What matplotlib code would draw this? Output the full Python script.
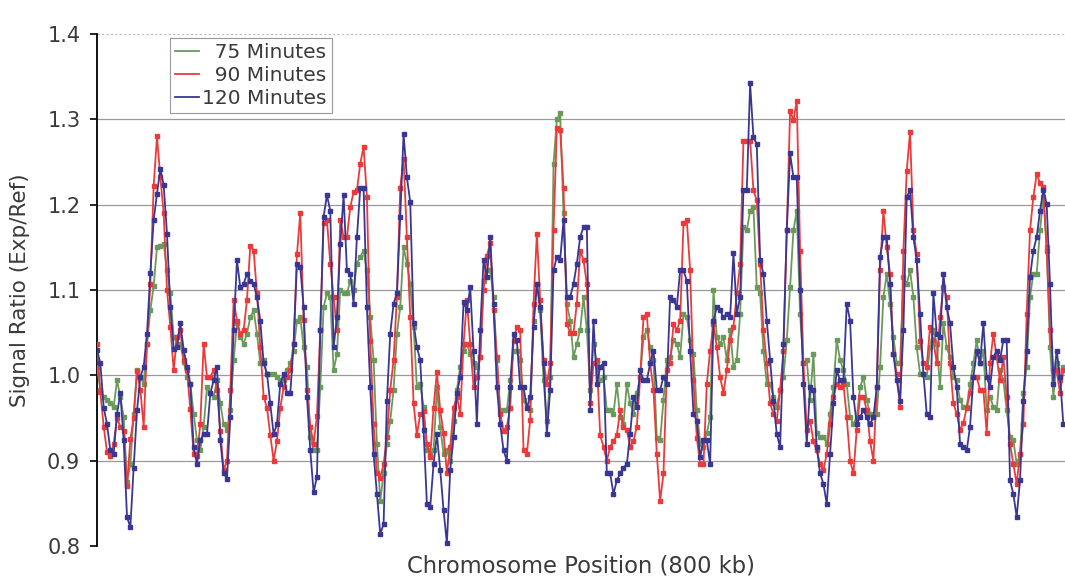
import numpy as np
import matplotlib
matplotlib.use('Agg')
import matplotlib.pyplot as plt
from matplotlib.lines import Line2D

# Signal ratios, left to right, one value per probe
ratio_75 = [
    1.01, 0.983, 0.975, 0.971, 0.967, 0.963, 0.994, 0.975, 0.951, 0.875,
    0.896, 0.955, 1.006, 0.998, 0.99, 1.037, 1.076, 1.105, 1.15, 1.152,
    1.154, 1.123, 1.096, 1.045, 1.037, 1.037, 1.016, 0.998, 0.99, 0.955,
    0.924, 0.912, 0.94, 0.986, 0.979, 0.975, 0.994, 0.967, 0.943, 0.936,
    0.959, 1.018, 1.061, 1.045, 1.037, 1.049, 1.068, 1.076,
    1.049, 1.014, 1.018, 1.002, 1.002, 1.002, 0.998, 0.994, 0.994, 1.006,
    1.014, 1.029, 1.064, 1.068, 1.033, 1.01, 0.928, 0.912, 0.912, 0.986,
    1.08, 1.096, 1.092, 1.006, 1.025, 1.10, 1.096, 1.096, 1.111, 1.10,
    1.131, 1.139, 1.146, 1.123, 1.068, 1.018, 0.92, 0.853, 0.885, 0.92,
    0.947, 0.983, 1.049, 1.08, 1.15, 1.131, 1.107, 1.057, 0.986, 0.99,
    0.963,
    0.912, 0.908, 0.912, 0.986, 0.939, 0.908, 0.912, 0.90, 0.947, 0.983,
    1.01, 1.029, 1.037, 1.025, 1.014, 1.01, 1.021, 1.111, 1.123, 1.123,
    1.092, 1.018, 0.959, 0.959, 0.959, 0.994, 1.029, 1.029, 1.018, 0.971,
    0.963, 0.959, 1.064, 1.107, 1.076, 0.994, 0.947, 0.998, 1.248, 1.30,
    1.307, 1.19, 1.084, 1.064, 1.021, 1.037, 1.053, 1.092,
    1.053, 0.983, 1.037, 1.014, 0.994, 0.998, 0.959, 0.959, 0.955, 0.99,
    0.951, 0.943, 0.99, 0.967, 0.955, 0.979, 0.998, 1.045, 1.053, 1.033,
    1.018, 0.927, 0.924, 0.971, 1.018, 1.021, 1.041, 1.037, 1.021, 1.072,
    1.068, 1.041, 1.025, 0.959, 0.92, 0.916, 0.932, 0.951, 1.10, 1.045,
    1.037, 1.045, 1.018, 1.053, 1.01, 1.018, 1.072, 1.174,
    1.17, 1.193, 1.197, 1.103, 1.096, 1.029, 0.99, 0.99, 0.975, 0.963,
    0.983, 0.998, 1.041, 1.103, 1.17, 1.193, 1.072, 1.014, 1.018, 0.971,
    1.025, 0.932, 0.928, 0.928, 0.92, 0.955, 0.986, 1.041, 1.018, 1.006,
    0.99, 0.951, 0.943, 0.951, 0.986, 0.998, 0.971, 0.955, 0.951, 0.955,
    1.01, 1.092, 1.119, 1.084, 1.045, 1.014, 1.014, 1.115,
    1.107, 1.123, 1.092, 1.033, 1.002, 1.002, 0.998, 1.033, 1.053, 1.037,
    0.986, 1.061, 1.033, 1.021, 0.998, 0.994, 0.971, 0.963, 0.963, 0.99,
    1.014, 1.041, 1.014, 1.029, 0.959, 0.975, 0.963, 0.959, 1.006, 0.994,
    0.959, 0.928, 0.924, 0.896, 0.908, 0.979, 1.01, 1.092, 1.119, 1.119,
    1.17, 1.209, 1.15, 1.033, 0.975, 1.014, 0.994, 1.01,
]

ratio_90 = [
    1.037, 0.98, 0.94, 0.91, 0.905, 0.92, 0.95, 0.94, 0.935, 0.87,
    0.925, 0.95, 1.005, 0.983, 0.94, 1.037, 1.107, 1.222, 1.28, 1.232,
    1.19, 1.10, 1.057, 1.006, 1.045, 1.053, 1.018, 1.006, 0.96, 0.908,
    0.905, 0.943, 1.037, 0.998, 0.998, 1.006, 0.983, 0.935, 0.889, 0.90,
    0.983, 1.088, 1.064, 1.049, 1.053, 1.088, 1.152, 1.146,
    1.096, 1.033, 0.975, 0.962, 0.93, 0.90, 0.923, 0.962, 0.986, 0.998,
    1.006, 1.037, 1.142, 1.19, 1.065, 0.983, 0.94, 0.92, 0.952, 1.053,
    1.178, 1.182, 1.131, 1.092, 1.053, 1.182, 1.162, 1.162, 1.197, 1.215,
    1.217, 1.248, 1.268, 1.209, 1.04, 0.943, 0.885, 0.88, 0.896, 0.928,
    0.983, 1.018, 1.092, 1.22, 1.254, 1.162, 1.068, 0.967, 0.93, 0.955,
    0.958,
    0.92, 0.904, 0.962, 1.004, 0.959, 0.932, 0.885, 0.916, 0.962, 0.975,
    0.955, 1.037, 1.088, 1.037, 0.986, 0.998, 1.021, 1.10, 1.14, 1.155,
    1.076, 1.021, 0.955, 0.935, 0.94, 0.962, 1.04, 1.057, 1.053, 0.912,
    0.908, 0.948, 1.084, 1.166, 1.088, 1.018, 0.99, 1.014, 1.17, 1.29,
    1.287, 1.22, 1.06, 1.05, 1.05, 1.084, 1.146, 1.135,
    1.107, 0.967, 1.014, 1.018, 0.93, 0.916, 0.90, 0.916, 0.923, 0.93,
    0.959, 0.94, 0.936, 0.916, 0.923, 0.94, 0.998, 1.068, 1.072, 1.014,
    0.983, 0.908, 0.853, 0.885, 1.006, 1.014, 1.06, 1.053, 1.064, 1.178,
    1.182, 1.123, 0.994, 0.927, 0.896, 0.896, 0.99, 1.029, 1.06, 1.033,
    0.998, 0.979, 1.006, 1.041, 1.057, 1.096, 1.13, 1.275,
    1.275, 1.275, 1.217, 1.205, 1.131, 1.053, 1.014, 0.967, 0.955, 0.947,
    0.983, 1.029, 1.17, 1.31, 1.299, 1.322, 1.146, 1.014, 0.936, 0.947,
    0.923, 0.912, 0.896, 0.889, 0.908, 0.943, 0.975, 0.99, 0.986, 0.99,
    0.951, 0.90, 0.885, 0.936, 0.975, 0.975, 0.959, 0.923, 0.90, 0.986,
    1.123, 1.193, 1.15, 1.119, 1.025, 1.002, 0.963, 1.146,
    1.24, 1.285, 1.17, 1.142, 1.04, 1.014, 1.01, 1.057, 1.041, 1.014,
    1.068, 1.103, 1.092, 1.014, 0.967, 0.955, 0.936, 0.944, 0.962, 0.979,
    0.998, 0.998, 0.983, 0.983, 0.932, 1.014, 1.049, 1.021, 0.994, 1.021,
    0.975, 0.92, 0.896, 0.873, 0.908, 0.943, 1.072, 1.17, 1.209, 1.236,
    1.225, 1.221, 1.146, 1.053, 1.006, 1.006, 0.979, 1.006,
]

ratio_120 = [
    1.03, 1.014, 0.962, 0.943, 0.912, 0.908, 0.955, 0.979, 0.924, 0.834,
    0.822, 0.892, 0.959, 0.998, 1.01, 1.049, 1.12, 1.182, 1.213, 1.242,
    1.223, 1.166, 1.08, 1.031, 1.033, 1.061, 1.03, 1.01, 0.99, 0.916,
    0.896, 0.924, 0.931, 0.931, 0.979, 0.994, 1.01, 0.924, 0.885, 0.879,
    0.951, 1.053, 1.135, 1.103, 1.107, 1.119, 1.111, 1.107,
    1.092, 1.064, 1.014, 1.002, 0.967, 0.931, 0.943, 0.99, 1.002, 0.979,
    0.979, 1.037, 1.131, 1.127, 1.08, 0.975, 0.912, 0.863, 0.881, 1.053,
    1.186, 1.211, 1.193, 1.033, 1.068, 1.154, 1.211, 1.123, 1.119, 1.084,
    1.162, 1.219, 1.219, 1.08, 0.986, 0.908, 0.861, 0.814, 0.826, 0.97,
    1.049, 1.084, 1.096, 1.186, 1.283, 1.232, 1.203, 1.061, 1.033, 1.018,
    0.936,
    0.849, 0.846, 0.896, 0.931, 0.889, 0.842, 0.803, 0.889, 0.928, 0.979,
    0.998, 1.086, 1.076, 1.103, 1.029, 0.943, 1.053, 1.135, 1.115, 1.162,
    1.084, 0.986, 0.943, 0.912, 0.90, 0.986, 1.049, 1.041, 0.986, 0.986,
    0.962, 0.975, 1.057, 1.107, 1.08, 1.014, 0.931, 0.983, 1.123, 1.139,
    1.135, 1.182, 1.092, 1.092, 1.107, 1.131, 1.162, 1.174,
    1.174, 0.959, 1.064, 0.99, 1.01, 1.014, 0.885, 0.885, 0.861, 0.877,
    0.885, 0.892, 0.896, 0.931, 0.975, 0.963, 1.006, 0.994, 0.994, 1.014,
    1.029, 0.983, 0.983, 0.998, 0.99, 1.092, 1.088, 1.08, 1.123, 1.123,
    1.111, 1.029, 0.955, 0.947, 0.904, 0.924, 0.924, 0.896, 1.064, 1.08,
    1.076, 1.068, 1.072, 1.068, 1.143, 1.072, 1.092, 1.217,
    1.217, 1.342, 1.279, 1.271, 1.135, 1.119, 1.064, 1.018, 0.97, 0.931,
    0.916, 1.037, 1.17, 1.26, 1.232, 1.232, 1.10, 0.99, 0.92, 0.986,
    0.983, 0.916, 0.885, 0.873, 0.849, 0.908, 0.967, 1.006, 0.994, 0.994,
    1.084, 1.064, 0.975, 0.943, 0.951, 0.959, 0.951, 0.943, 0.951, 0.986,
    1.139, 1.162, 1.162, 1.107, 1.025, 0.994, 0.97, 1.053,
    1.209, 1.217, 1.162, 1.135, 1.072, 1.002, 0.955, 0.951, 1.096, 1.049,
    1.045, 1.119, 1.08, 1.061, 1.01, 0.986, 0.92, 0.916, 0.912, 0.94,
    0.998, 1.029, 1.014, 1.061, 0.998, 0.986, 1.021, 1.029, 1.018, 1.041,
    1.041, 0.877, 0.861, 0.834, 0.877, 0.97, 1.029, 1.115, 1.146, 1.162,
    1.193, 1.217, 1.201, 1.107, 0.99, 1.029, 0.998, 0.943,
]

series_labels = ['75 Minutes', '90 Minutes', '120 Minutes']
series_colors = ['#6a9a5a', '#ec3a3a', '#3a3794']
y_ticks = [0.8, 0.9, 1.0, 1.1, 1.2, 1.3, 1.4]

fig = plt.figure(figsize=(10.65, 5.8), dpi=100)
ax = fig.add_axes([0.0911, 0.0586, 0.9089, 0.8828])

x = np.arange(len(ratio_120))
for vals, c in zip([ratio_75, ratio_90, ratio_120], series_colors):
    ax.plot(x, vals, color=c, lw=1.3, marker='s', ms=3.5,
            mfc=c, mec=c, zorder=3)

# horizontal grid
for y in y_ticks[1:-1]:
    ax.axhline(y, color='#9a9a9a', lw=0.9, zorder=1)
for y in (y_ticks[0], y_ticks[-1]):
    ax.axhline(y, color='#bcbcbc', lw=0.8, ls=(0, (2, 2)), zorder=1)

ax.set_xlim(0, 290.5)
ax.set_ylim(0.8, 1.4)
ax.set_xticks([])
ax.set_yticks(y_ticks)
ax.set_yticklabels([f'{v:.1f}' for v in y_ticks])
ax.tick_params(axis='y', direction='out', length=5, width=1.2,
               labelsize=15, labelcolor='#3a3a3a', pad=7)
for side in ['top', 'right', 'bottom']:
    ax.spines[side].set_visible(False)
ax.spines['left'].set_linewidth(1.4)
ax.spines['left'].set_color('#111111')

ax.set_ylabel('Signal Ratio (Exp/Ref)', fontsize=15.5, color='#3a3a3a', labelpad=12)
ax.set_xlabel('Chromosome Position (800 kb)', fontsize=16.3, color='#3a3a3a', labelpad=6)

handles = [Line2D([], [], color=c, lw=1.3) for c in series_colors]
legend_text = ['\u2007' + series_labels[0], '\u2007' + series_labels[1], series_labels[2]]
leg = ax.legend(handles, legend_text, loc='upper left', bbox_to_anchor=(0.0754, 0.992),
                borderaxespad=0, fontsize=14.5, frameon=True, fancybox=False,
                framealpha=1, edgecolor='#999999', borderpad=0.25,
                labelspacing=0.2, handlelength=1.2, handletextpad=0.15)
leg.get_frame().set_linewidth(0.8)
for t in leg.get_texts():
    t.set_color('#3a3a3a')

fig.savefig('out.png', dpi=100)
